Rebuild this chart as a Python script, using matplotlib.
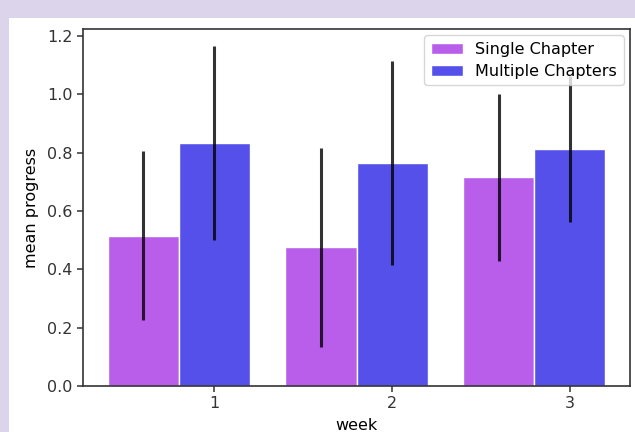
import numpy as np
import matplotlib
matplotlib.use("Agg")
import matplotlib.pyplot as plt
from matplotlib.patches import Rectangle

weeks = np.array([1, 2, 3])
single_mean = [0.515, 0.475, 0.715]
single_err = [0.29, 0.34, 0.285]
multi_mean = [0.832, 0.765, 0.812]
multi_err = [0.333, 0.35, 0.25]

plt.rcParams['font.family'] = ['DejaVu Sans']
plt.rcParams['font.size'] = 11.5

fig = plt.figure(figsize=(6.35, 4.32), dpi=100, facecolor='#dcd4ea')
# white notebook output area
fig.patches.append(Rectangle((9/635, 0), 1, 1 - 18/432, transform=fig.transFigure,
                             facecolor='white', edgecolor='none', zorder=-10))

ax = fig.add_axes([83/635, 46/432, 547/635, 357/432])
ax.set_facecolor('white')

w = 0.4
ax.bar(weeks - w, single_mean, width=w, yerr=single_err, color='#b95eea',
       edgecolor='white', linewidth=1, label='Single Chapter',
       error_kw=dict(ecolor='black', elinewidth=2.2, alpha=0.8))
ax.bar(weeks, multi_mean, width=w, yerr=multi_err, color='#5650ea',
       edgecolor='white', linewidth=1, label='Multiple Chapters',
       error_kw=dict(ecolor='black', elinewidth=2.2, alpha=0.8))

ax.set_xticks(weeks)
ax.set_xlabel('week', labelpad=5)
ax.set_ylabel('mean progress', labelpad=6)
for s in ax.spines.values():
    s.set_linewidth(1.2)
    s.set_color('#333333')
ax.tick_params(length=4, width=1.1, color='#333333', labelcolor='#333333')
ax.legend(loc='upper right', borderaxespad=0.4, labelspacing=0.45)

fig.savefig('out.png', dpi=100, facecolor=fig.get_facecolor())
